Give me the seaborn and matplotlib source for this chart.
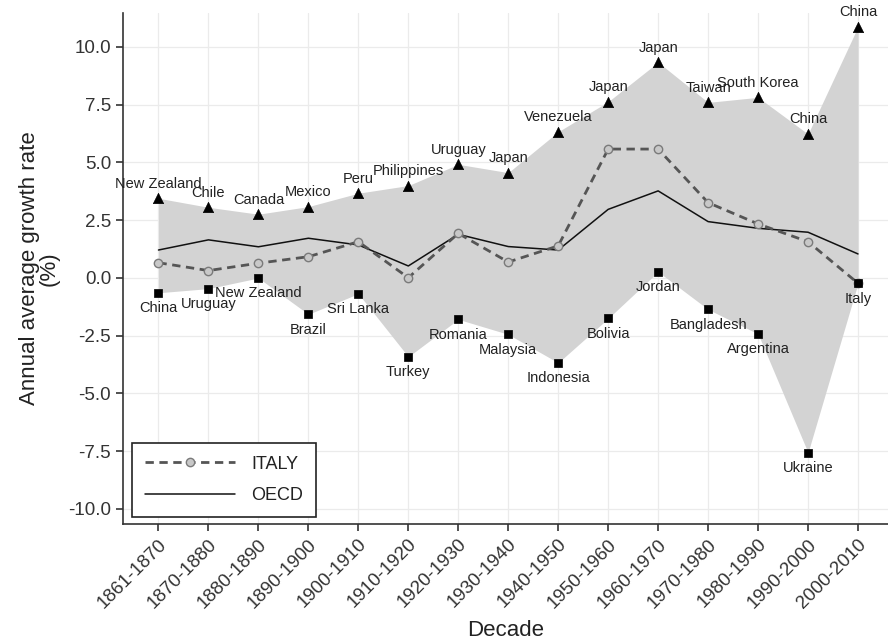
import numpy as np
import pandas as pd
import matplotlib
matplotlib.use("Agg")
import matplotlib.pyplot as plt
import seaborn as sns

decades = ['1861-1870', '1870-1880', '1880-1890', '1890-1900', '1900-1910',
           '1910-1920', '1920-1930', '1930-1940', '1940-1950', '1950-1960',
           '1960-1970', '1970-1980', '1980-1990', '1990-2000', '2000-2010']
max_country = ['New Zealand', 'Chile', 'Canada', 'Mexico', 'Peru', 'Philippines',
               'Uruguay', 'Japan', 'Venezuela', 'Japan', 'Japan', 'Taiwan',
               'South Korea', 'China', 'China']
max_value = [3.45, 3.06, 2.76, 3.09, 3.67, 4.00, 4.92, 4.56, 6.33, 7.63, 9.34,
             7.60, 7.82, 6.23, 10.88]
min_country = ['China', 'Uruguay', 'New Zealand', 'Brazil', 'Sri Lanka', 'Turkey',
               'Romania', 'Malaysia', 'Indonesia', 'Bolivia', 'Jordan',
               'Bangladesh', 'Argentina', 'Ukraine', 'Italy']
min_value = [-0.64, -0.46, 0.00, -1.57, -0.68, -3.41, -1.79, -2.44, -3.67, -1.75,
             0.27, -1.36, -2.42, -7.56, -0.23]
italy = [0.66, 0.32, 0.64, 0.92, 1.57, 0.01, 1.93, 0.69, 1.39, 5.58, 5.58, 3.26,
         2.34, 1.57, -0.23]
oecd = [1.21, 1.65, 1.35, 1.72, 1.43, 0.52, 1.89, 1.36, 1.21, 2.97, 3.77, 2.44,
        2.15, 1.98, 1.04]
y_ticks = [-10.0, -7.5, -5.0, -2.5, 0.0, 2.5, 5.0, 7.5, 10.0]

sns.set_theme(style='white')
plt.rcParams['font.family'] = ['Liberation Sans', 'DejaVu Sans']

df = pd.DataFrame({'pos': np.arange(len(decades)), 'decade': decades,
                   'max': max_value, 'min': min_value,
                   'ITALY': italy, 'OECD': oecd})

fig = plt.figure(figsize=(8.88, 6.41), dpi=100)
ax = fig.add_axes([123 / 888, 1 - 524 / 641, 1 - 123 / 888, (524 - 13) / 641])

ax.fill_between(df['pos'], df['min'], df['max'], color='#d3d3d3', linewidth=0, zorder=1)

sns.lineplot(data=df, x='pos', y='OECD', ax=ax, color='#111111', linewidth=1.1,
             label='OECD', zorder=3)
sns.lineplot(data=df, x='pos', y='ITALY', ax=ax, color='#555555', linewidth=2.0,
             linestyle=(0, (3, 2)), marker='o', markersize=6,
             markerfacecolor='#c8c8c8', markeredgecolor='#7a7a7a', markeredgewidth=1.0,
             label='ITALY', zorder=4)

sns.scatterplot(data=df, x='pos', y='max', ax=ax, marker='^', s=55, color='black',
                edgecolor='black', linewidth=0.5, zorder=5, legend=False)
sns.scatterplot(data=df, x='pos', y='min', ax=ax, marker='s', s=38, color='black',
                edgecolor='black', linewidth=0.5, zorder=5, legend=False)

for i in range(len(decades)):
    ax.annotate(max_country[i], (df['pos'][i], max_value[i]), xytext=(0, 10.5),
                textcoords='offset points', ha='center', va='center',
                fontsize=10.5, color='#222222', zorder=6)
    ax.annotate(min_country[i], (df['pos'][i], min_value[i]), xytext=(0, -11),
                textcoords='offset points', ha='center', va='center',
                fontsize=10.5, color='#222222', zorder=6)

ax.set_xlim(-0.71, 14.6)
ax.set_ylim(-10.65, 11.47)
ax.set_xticks(df['pos'])
ax.set_xticklabels(decades, rotation=45, ha='right', va='top', rotation_mode='anchor')
ax.set_yticks(y_ticks)
ax.set_yticklabels([f'{v:.1f}' for v in y_ticks])
ax.tick_params(axis='both', labelsize=13.5, colors='#333333', length=5, width=1.2,
               direction='out', bottom=True, left=True, labelcolor='#333333')
ax.grid(True, color='#ebebeb', linewidth=0.9, zorder=0)
ax.set_axisbelow(True)
for side in ['top', 'right']:
    ax.spines[side].set_visible(False)
for side in ['left', 'bottom']:
    ax.spines[side].set_color('#333333')
    ax.spines[side].set_linewidth(1.2)

ax.set_xlabel('Decade', fontsize=16, color='#222222', labelpad=6)
ax.set_ylabel('Annual average growth rate\n(%)', fontsize=16, color='#222222',
              labelpad=6, linespacing=0.9)

handles, labels = ax.get_legend_handles_labels()
order = [labels.index('ITALY'), labels.index('OECD')]
leg = ax.legend([handles[k] for k in order], [labels[k] for k in order],
                loc='lower left', bbox_to_anchor=(0.012, 0.014), fontsize=13,
                frameon=True, fancybox=False, edgecolor='#222222', framealpha=1,
                handlelength=5.0, handletextpad=0.9, labelspacing=0.8,
                borderpad=0.7, borderaxespad=0)
leg.get_frame().set_linewidth(1.2)
for t in leg.get_texts():
    t.set_color('#222222')

fig.savefig('out.png', dpi=100)
